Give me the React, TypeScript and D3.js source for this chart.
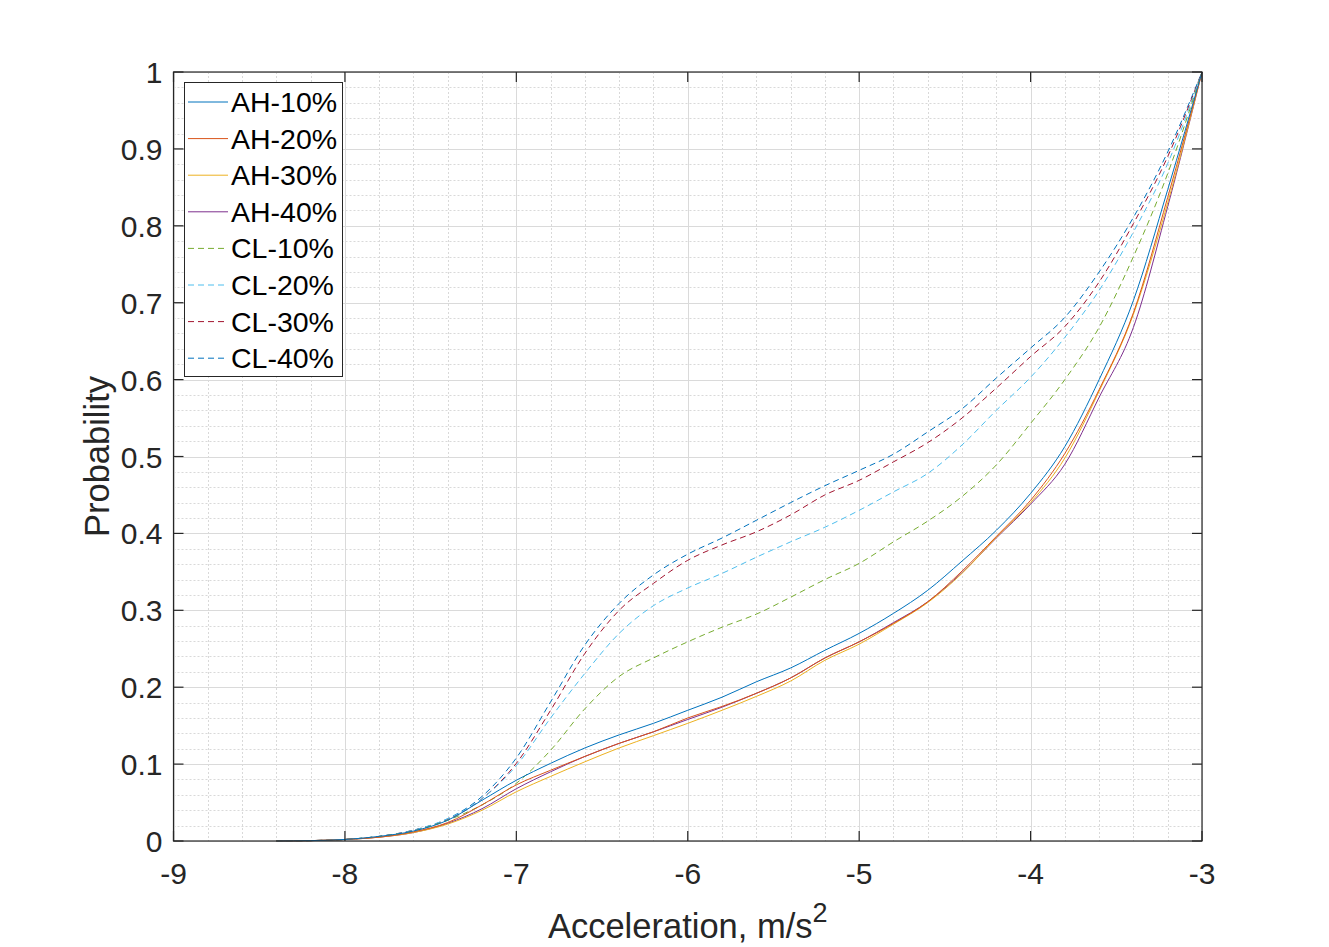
import React, { useEffect, useRef } from "react";
import * as d3 from "d3";

const xs = [-8.4, -8.2, -8.0, -7.8, -7.6, -7.4, -7.2, -7.0, -6.8, -6.6, -6.4, -6.2, -6.0, -5.8, -5.6, -5.4, -5.2, -5.0, -4.8, -4.6, -4.4, -4.2, -4.0, -3.8, -3.6, -3.4, -3.2, -3.0];

const ah10 = [0, 0.0005, 0.002, 0.006, 0.013, 0.027, 0.053, 0.079, 0.101, 0.121, 0.138, 0.153, 0.170, 0.187, 0.207, 0.225, 0.248, 0.270, 0.296, 0.326, 0.364, 0.404, 0.452, 0.513, 0.600, 0.703, 0.847, 1.0];
const ah20 = [0, 0.0005, 0.002, 0.005, 0.012, 0.024, 0.047, 0.073, 0.092, 0.110, 0.127, 0.142, 0.160, 0.175, 0.192, 0.212, 0.238, 0.259, 0.283, 0.311, 0.351, 0.396, 0.443, 0.504, 0.587, 0.687, 0.837, 1.0];
const ah30 = [0, 0.0005, 0.002, 0.005, 0.011, 0.022, 0.040, 0.064, 0.084, 0.103, 0.121, 0.137, 0.153, 0.170, 0.188, 0.208, 0.235, 0.256, 0.282, 0.310, 0.348, 0.395, 0.440, 0.498, 0.585, 0.685, 0.830, 1.0];
const ah40 = [0, 0.0005, 0.002, 0.005, 0.011, 0.023, 0.042, 0.068, 0.090, 0.110, 0.127, 0.142, 0.158, 0.174, 0.192, 0.212, 0.238, 0.259, 0.284, 0.311, 0.349, 0.394, 0.438, 0.490, 0.577, 0.668, 0.825, 1.0];
const cl10 = [0, 0.0005, 0.002, 0.006, 0.013, 0.027, 0.047, 0.075, 0.118, 0.172, 0.214, 0.238, 0.259, 0.278, 0.295, 0.317, 0.340, 0.361, 0.389, 0.416, 0.448, 0.489, 0.543, 0.600, 0.668, 0.760, 0.868, 1.0];
const cl20 = [0, 0.0005, 0.002, 0.006, 0.014, 0.029, 0.055, 0.098, 0.160, 0.218, 0.270, 0.306, 0.329, 0.348, 0.369, 0.389, 0.408, 0.430, 0.454, 0.478, 0.515, 0.560, 0.603, 0.655, 0.716, 0.792, 0.881, 1.0];
const cl30 = [0, 0.0005, 0.002, 0.006, 0.014, 0.028, 0.055, 0.101, 0.170, 0.244, 0.300, 0.335, 0.365, 0.385, 0.402, 0.424, 0.450, 0.469, 0.493, 0.518, 0.550, 0.589, 0.630, 0.669, 0.727, 0.803, 0.890, 1.0];
const cl40 = [0, 0.0005, 0.002, 0.006, 0.014, 0.029, 0.058, 0.108, 0.181, 0.255, 0.309, 0.346, 0.373, 0.394, 0.417, 0.440, 0.462, 0.482, 0.503, 0.532, 0.562, 0.602, 0.641, 0.681, 0.740, 0.811, 0.896, 1.0];

const seriesNames = ["AH-10%", "AH-20%", "AH-30%", "AH-40%", "CL-10%", "CL-20%", "CL-30%", "CL-40%"];
const seriesValues = [ah10, ah20, ah30, ah40, cl10, cl20, cl30, cl40];
const seriesColors = ["#0072BD", "#D95319", "#EDB120", "#7E2F8E", "#77AC30", "#4DBEEE", "#A2142F", "#0072BD"];
const seriesDashed = [false, false, false, false, true, true, true, true];

const xTicks = [-9, -8, -7, -6, -5, -4, -3];
const yTicks = [0, 0.1, 0.2, 0.3, 0.4, 0.5, 0.6, 0.7, 0.8, 0.9, 1];

const W = 1329;
const H = 947;
const L = 173.5;
const R = 1202;
const T = 72;
const B = 841;
const AX = "#262626";
const FONT = "Arial, 'Liberation Sans', Helvetica, sans-serif";

export default function App() {
  const ref = useRef<SVGSVGElement | null>(null);

  useEffect(() => {
    const svg = d3.select(ref.current);
    svg.selectAll("*").remove();
    const x = d3.scaleLinear().domain([-9, -3]).range([L, R]);
    const y = d3.scaleLinear().domain([0, 1]).range([B, T]);

    svg.append("rect").attr("x", L).attr("y", T).attr("width", R - L).attr("height", B - T).attr("fill", "#fff");

    // minor grid
    const g = svg.append("g");
    const xMinor = d3.range(-9, -3.0001, 0.2).map((v) => +v.toFixed(2)).filter((v) => !xTicks.includes(v));
    const yMinor = d3.range(0, 1.0001, 0.02).map((v) => +v.toFixed(2)).filter((v) => Math.abs(v * 10 - Math.round(v * 10)) > 1e-6);
    g.selectAll(".xm").data(xMinor).join("line")
      .attr("x1", (d) => Math.round(x(d)) + 0.5).attr("x2", (d) => Math.round(x(d)) + 0.5)
      .attr("y1", T).attr("y2", B).attr("stroke", "#d9d9d9").attr("stroke-width", 1).attr("stroke-dasharray", "2,2");
    g.selectAll(".ym").data(yMinor).join("line")
      .attr("y1", (d) => Math.round(y(d)) + 0.5).attr("y2", (d) => Math.round(y(d)) + 0.5)
      .attr("x1", L).attr("x2", R).attr("stroke", "#d9d9d9").attr("stroke-width", 1).attr("stroke-dasharray", "2,2");
    // major grid
    g.selectAll(".xM").data(xTicks).join("line")
      .attr("x1", (d) => Math.round(x(d)) + 0.5).attr("x2", (d) => Math.round(x(d)) + 0.5)
      .attr("y1", T).attr("y2", B).attr("stroke", "#dadada").attr("stroke-width", 1);
    g.selectAll(".yM").data(yTicks).join("line")
      .attr("y1", (d) => Math.round(y(d)) + 0.5).attr("y2", (d) => Math.round(y(d)) + 0.5)
      .attr("x1", L).attr("x2", R).attr("stroke", "#dadada").attr("stroke-width", 1);

    // lines
    const line = d3.line<number>()
      .x((_, i) => x(xs[i]))
      .y((d) => y(d))
      .curve(d3.curveMonotoneX);
    const order = [7, 6, 5, 4, 3, 2, 1, 0];
    order.forEach((k) => {
      svg.append("path")
        .attr("d", line(seriesValues[k]) as string)
        .attr("fill", "none")
        .attr("stroke", seriesColors[k])
        .attr("stroke-width", 1)
        .attr("stroke-dasharray", seriesDashed[k] ? "6,4" : null);
    });

    // axes box
    const ax = svg.append("g");
    ax.append("rect").attr("x", L).attr("y", T).attr("width", R - L).attr("height", B - T)
      .attr("fill", "none").attr("stroke", AX).attr("stroke-width", 1.2);
    xTicks.forEach((v) => {
      const px = x(v);
      ax.append("line").attr("x1", px).attr("x2", px).attr("y1", B).attr("y2", B - 10).attr("stroke", AX).attr("stroke-width", 1.2);
      ax.append("line").attr("x1", px).attr("x2", px).attr("y1", T).attr("y2", T + 10).attr("stroke", AX).attr("stroke-width", 1.2);
      ax.append("text").attr("x", px).attr("y", B + 43).attr("text-anchor", "middle")
        .attr("font-family", FONT).attr("font-size", 30).attr("fill", AX).text(String(v));
    });
    yTicks.forEach((v) => {
      const py = y(v);
      ax.append("line").attr("x1", L).attr("x2", L + 10).attr("y1", py).attr("y2", py).attr("stroke", AX).attr("stroke-width", 1.2);
      ax.append("line").attr("x1", R).attr("x2", R - 10).attr("y1", py).attr("y2", py).attr("stroke", AX).attr("stroke-width", 1.2);
      ax.append("text").attr("x", L - 11).attr("y", py + 11).attr("text-anchor", "end")
        .attr("font-family", FONT).attr("font-size", 30).attr("fill", AX).text(String(v));
    });

    // axis labels
    const xl = ax.append("text").attr("x", (L + R) / 2).attr("y", 938).attr("text-anchor", "middle")
      .attr("font-family", FONT).attr("font-size", 34.5).attr("fill", AX);
    xl.append("tspan").text("Acceleration, m/s");
    xl.append("tspan").attr("dy", -16).attr("font-size", 27).text("2");

    ax.append("text").attr("transform", `translate(109, ${(T + B) / 2}) rotate(-90)`).attr("text-anchor", "middle")
      .attr("font-family", FONT).attr("font-size", 34.5).attr("fill", AX).text("Probability");

    // legend
    const lg = svg.append("g");
    const lx = 184.5, ly = 82.5, lw = 158, lh = 294;
    lg.append("rect").attr("x", lx).attr("y", ly).attr("width", lw).attr("height", lh)
      .attr("fill", "#fff").attr("stroke", AX).attr("stroke-width", 1);
    seriesNames.forEach((name, i) => {
      const cy = 102 + i * 36.6;
      lg.append("line").attr("x1", 188).attr("x2", 228).attr("y1", cy).attr("y2", cy)
        .attr("stroke", seriesColors[i]).attr("stroke-width", 1)
        .attr("stroke-dasharray", seriesDashed[i] ? "6,4" : null);
      lg.append("text").attr("x", 231).attr("y", cy + 10).attr("font-family", FONT)
        .attr("font-size", 28.5).attr("fill", "#000").text(name);
    });
  }, []);

  return (
    <svg ref={ref} width={W} height={H} style={{ display: "block", position: "absolute", left: 0, top: 0, background: "#fff" }} />
  );
}
